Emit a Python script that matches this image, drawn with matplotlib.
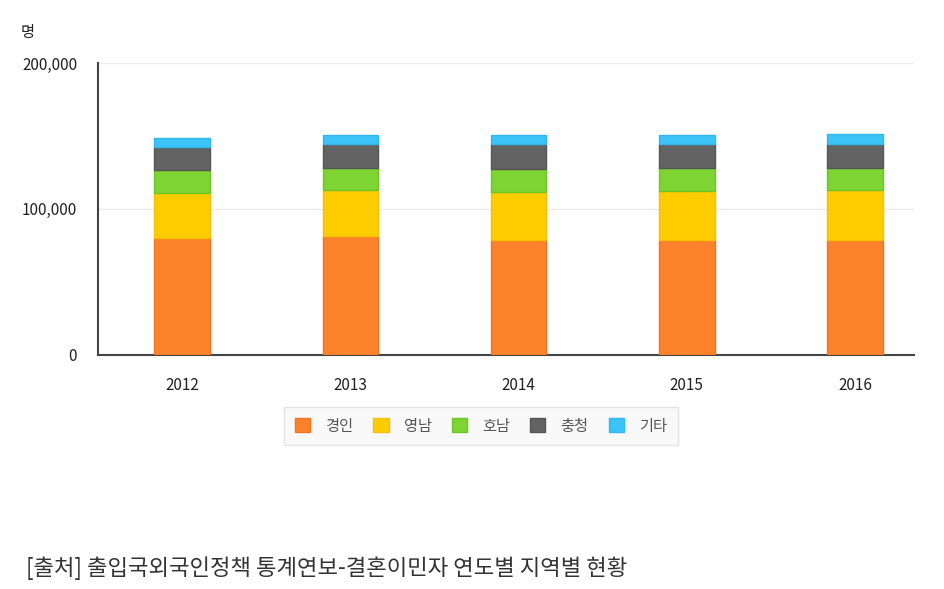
import matplotlib
matplotlib.use("Agg")
import matplotlib.pyplot as plt
from matplotlib.patches import Patch
import numpy as np

plt.rcParams['font.family'] = ['Noto Sans CJK KR', 'DejaVu Sans']

years = ['2012', '2013', '2014', '2015', '2016']
regions = ['경인', '영남', '호남', '충청', '기타']
gyeongin = [79900, 81000, 78700, 78700, 78700]
yeongnam = [31100, 31600, 33000, 33200, 33900]
honam = [15300, 15400, 15600, 16100, 15400]
chungcheong = [16100, 16500, 17200, 16500, 16500]
gita = [6200, 5900, 5900, 5900, 6800]
series = [gyeongin, yeongnam, honam, chungcheong, gita]
yticks = [0, 100000, 200000]
ytick_labels = ['0', '100,000', '200,000']

colors = ['#FD822B', '#FFCC00', '#7DD433', '#636363', '#3CC4F8']
edges = ['#F07420', '#F5C000', '#6CC626', '#555555', '#30B8EE']

fig = plt.figure(figsize=(9.44, 5.89), dpi=100)
ax = fig.add_axes([98/944, 1-354.5/589, (914-98)/944, (354.5-63)/589])

x = np.arange(len(years))
bottom = np.zeros(len(years))
for vals, c, ec in zip(series, colors, edges):
    ax.bar(x, vals, width=0.33, bottom=bottom, color=c, edgecolor=ec,
           linewidth=1.0, zorder=3)
    bottom += np.array(vals)

ax.set_xlim(-0.5, 4.35)
ax.set_ylim(0, 200000)
ax.set_yticks(yticks)
ax.set_yticklabels(ytick_labels)
ax.set_xticks(x)
ax.set_xticklabels(years)
ax.tick_params(axis='both', length=0, labelsize=11, colors='#222222')
ax.tick_params(axis='y', pad=15)
ax.tick_params(axis='x', pad=16)
for lbl in ax.get_xticklabels() + ax.get_yticklabels():
    lbl.set_fontweight('medium')
ax.yaxis.grid(True, color='#EBEBEB', linewidth=1, zorder=0)
for s in ['top', 'right']:
    ax.spines[s].set_visible(False)
for s in ['left', 'bottom']:
    ax.spines[s].set_color('#444444')
    ax.spines[s].set_linewidth(1.5)

fig.text(28/944, 1-33/589, '명', fontsize=11, color='#222222', ha='center', va='center',
         fontweight='medium')

handles = [Patch(facecolor=c, edgecolor=ec, label=r) for c, ec, r in zip(colors, edges, regions)]
leg = fig.legend(handles=handles, loc='center', bbox_to_anchor=(481/944, 1-426/589),
                 ncol=5, frameon=True, fontsize=11, handlelength=1.0, handleheight=1.0,
                 columnspacing=1.3, handletextpad=1.0, borderpad=0.7, fancybox=False)
leg.get_frame().set_edgecolor('#DDDDDD')
leg.get_frame().set_facecolor('#F8F8F8')
for t in leg.get_texts():
    t.set_color('#555555')

fig.text(26/944, 1-568/589, '[출처] 출입국외국인정책 통계연보-결혼이민자 연도별 지역별 현황',
         fontsize=16, color='#333333', ha='left', va='center')

fig.savefig('out.png', dpi=100)
